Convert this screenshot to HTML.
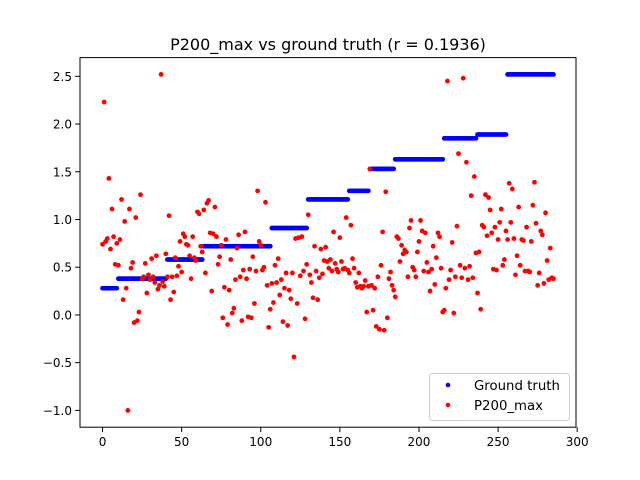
<!DOCTYPE html>
<html><head><meta charset="utf-8"><style>
body{margin:0;background:#fff}
svg{display:block;font-family:"DejaVu Sans","Liberation Sans",sans-serif}
</style></head><body>
<svg id="chart" width="640" height="480" viewBox="0 0 640 480">
<rect width="640" height="480" fill="#fff"/>
<text x="328" y="50" text-anchor="middle" font-size="16">P200_max vs ground truth (r = 0.1936)</text>
<g id="axes"></g>
<g id="gt"></g>
<g id="pred"></g>
<rect x="80" y="57.6" width="496" height="369.6" fill="none" stroke="#000" stroke-width="1"/>
<g>
<rect x="429.5" y="373.5" width="140" height="47" rx="3" fill="#fff" fill-opacity="0.8" stroke="#ccc"/>
<circle cx="448" cy="385" r="2.3" fill="#0000ff"/>
<text x="474" y="390" font-size="13.3">Ground truth</text>
<circle cx="448" cy="405" r="2.3" fill="#ff0000"/>
<text x="474" y="410" font-size="13.3">P200_max</text>
</g>
</svg>
<script>
const gtLevels=[0.28,0.38,0.58,0.72,0.91,1.21,1.30,1.53,1.63,1.85,1.89,2.52];
const gtCounts=[10,31,23,43,23,26,13,16,31,21,19,30];
const predValues=[
0.74,2.23,0.77,0.80,1.43,0.69,1.11,0.82,0.53,0.75,
0.52,0.79,1.21,0.16,0.98,0.28,-1.00,1.11,0.49,0.55,
-0.08,1.02,-0.06,0.03,1.26,0.38,0.40,0.54,0.23,0.42,
0.37,0.59,0.40,0.34,0.62,0.27,0.31,2.52,0.35,0.30,
0.64,0.40,1.04,0.16,0.40,0.24,0.60,0.41,0.51,0.77,
0.45,0.85,0.82,0.74,0.73,0.62,0.38,0.82,0.60,0.57,
1.08,1.06,0.72,0.66,1.10,0.44,1.17,1.20,0.86,0.25,
0.85,1.13,0.82,0.53,0.61,0.73,-0.03,0.29,0.79,-0.10,
0.26,0.58,0.02,0.07,0.37,0.70,0.84,0.40,-0.06,0.47,
0.87,0.38,-0.02,0.48,-0.03,0.61,0.12,0.46,1.30,0.77,
0.73,0.47,0.50,1.18,0.31,-0.13,0.06,0.33,0.13,0.52,
0.34,0.59,0.21,0.37,-0.07,0.28,0.44,-0.11,0.26,0.17,
0.44,-0.44,0.80,0.12,0.81,0.41,0.82,0.46,-0.04,0.53,
1.05,0.42,0.34,0.18,0.72,0.46,0.16,0.39,0.69,0.43,
0.57,0.71,0.56,0.49,0.58,0.46,0.87,0.54,0.48,0.45,
0.81,0.56,0.48,0.49,1.02,0.47,0.44,0.94,0.59,0.49,
0.34,0.29,0.44,0.30,0.28,0.30,0.36,0.03,0.30,1.53,
0.31,0.05,0.28,-0.12,0.40,-0.15,0.52,0.87,-0.16,1.29,
-0.03,0.38,0.45,0.31,0.26,0.19,0.82,0.80,0.56,0.73,
0.64,0.68,0.66,0.40,0.91,0.99,0.50,0.47,0.40,0.66,
0.77,0.99,0.88,0.46,0.86,0.55,0.45,0.25,0.48,0.72,
0.32,0.60,0.86,0.82,0.49,0.03,0.05,0.28,2.45,0.37,
0.47,0.76,0.02,0.40,0.93,1.69,0.52,0.39,2.48,0.49,
1.60,0.37,0.51,1.25,0.39,1.45,0.65,0.23,0.66,0.06,
0.94,0.92,1.26,0.83,1.23,1.10,0.86,0.48,0.92,0.47,
0.79,0.97,1.11,0.52,0.58,0.88,0.79,1.38,0.97,1.32,
0.80,0.42,0.62,1.13,0.52,0.79,0.78,0.46,0.92,0.46,
0.45,0.77,1.15,1.39,0.96,0.31,0.44,0.88,0.84,0.33,
1.07,0.57,0.37,0.70,0.39,0.38];
const xTicks=[0,50,100,150,200,250,300];
const yTicks=[-1.0,-0.5,0.0,0.5,1.0,1.5,2.0,2.5];

const NS="http://www.w3.org/2000/svg";
const X0=80,X1=576,Y0=57.6,Y1=427.2;
const xmin=-14.25,xmax=299.25,ymin=-1.176,ymax=2.696;
function sx(v){return X0+(v-xmin)/(xmax-xmin)*(X1-X0);}
function sy(v){return Y1-(v-ymin)/(ymax-ymin)*(Y1-Y0);}
function mk(tag,attrs){const e=document.createElementNS(NS,tag);for(const k in attrs)e.setAttribute(k,attrs[k]);return e;}

const axes=document.getElementById('axes');
xTicks.forEach(t=>{
  const x=sx(t);
  const l=mk('line',{x1:x,x2:x,y1:Y1,y2:Y1+4.9,stroke:'#000'});
  
  
  axes.appendChild(l);
  const tx=mk('text',{x:x,y:Y1+19,'text-anchor':'middle','font-size':'12'});
  tx.textContent=String(t);
  
  
  axes.appendChild(tx);
});
yTicks.forEach(t=>{
  const y=sy(t);
  const l=mk('line',{x1:X0-4.9,x2:X0,y1:y,y2:y,stroke:'#000'});
  
  
  axes.appendChild(l);
  const tx=mk('text',{x:X0-8,y:y+4.5,'text-anchor':'end','font-size':'12'});
  tx.textContent=(t<0?'\u2212':'')+Math.abs(t).toFixed(1);
  
  
  axes.appendChild(tx);
});

const gtG=document.getElementById('gt');


let idx=0;
gtLevels.forEach((lv,k)=>{
  for(let j=0;j<gtCounts[k];j++){
    const c=mk('circle',{cx:sx(idx),cy:sy(lv),r:2.4,fill:'#0000ff'});
    
    
    gtG.appendChild(c);
    idx++;
  }
});
const pG=document.getElementById('pred');


predValues.forEach((v,i)=>{
  const c=mk('circle',{cx:sx(i),cy:sy(v),r:2.4,fill:'#ff0000'});
  
  
  pG.appendChild(c);
});
</script>
</body></html>
